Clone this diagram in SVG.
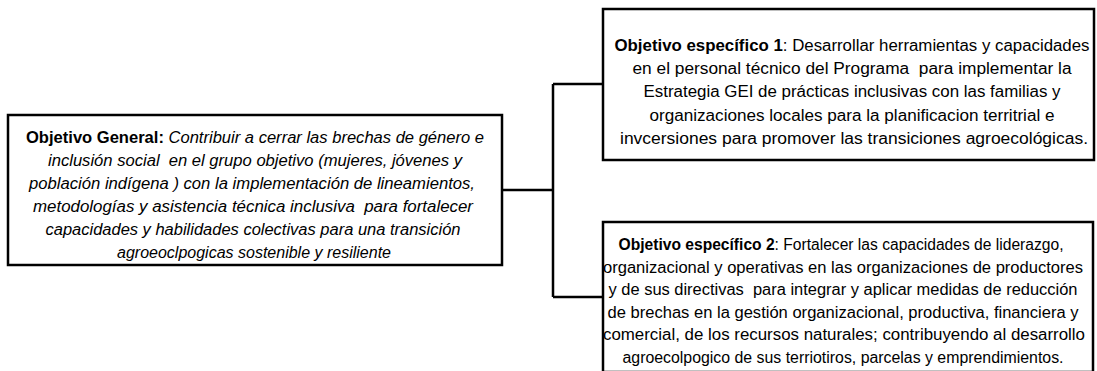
<svg xmlns="http://www.w3.org/2000/svg" width="1097" height="371" viewBox="0 0 1097 371">
<style>
.box{fill:#fff;stroke:#000;stroke-width:2.5}
.t{font-family:"Liberation Sans",Arial,sans-serif;font-size:16px;fill:#000;text-anchor:middle;white-space:pre}
.i{font-style:italic}
.b{font-weight:bold;font-style:normal}
.c{fill:none;stroke:#000;stroke-width:2.5}
</style>
<g id="connectors">
<path class="c" d="M502 190H553M553 84V297M553 84H603M553 297H603"/>
</g>
<g id="general">
<rect class="box" x="8" y="115" width="494" height="150"/>
<text class="t i" x="255" y="142.5" textLength="458" lengthAdjust="spacingAndGlyphs"><tspan class="b">Objetivo General:</tspan> Contribuir a cerrar las brechas de género e</text>
<text class="t i" x="255" y="165.6" textLength="414" lengthAdjust="spacingAndGlyphs">inclusión social  en el grupo objetivo (mujeres, jóvenes y</text>
<text class="t i" x="252" y="188.7" textLength="446" lengthAdjust="spacingAndGlyphs">población indígena ) con la implementación de lineamientos,</text>
<text class="t i" x="253" y="211.8" textLength="440" lengthAdjust="spacingAndGlyphs">metodologías y asistencia técnica inclusiva  para fortalecer</text>
<text class="t i" x="253" y="234.9" textLength="415" lengthAdjust="spacingAndGlyphs">capacidades y habilidades colectivas para una transición</text>
<text class="t i" x="254" y="258">agroeoclpogicas sostenible y resiliente</text>
</g>
<g id="especifico1">
<rect class="box" x="603" y="9" width="491" height="151"/>
<text class="t" x="852" y="51" textLength="475" lengthAdjust="spacingAndGlyphs"><tspan class="b">Objetivo específico 1</tspan>: Desarrollar herramientas y capacidades</text>
<text class="t" x="852" y="74.2" textLength="439" lengthAdjust="spacingAndGlyphs">en el personal técnico del Programa  para implementar la</text>
<text class="t" x="852" y="97.4" textLength="417" lengthAdjust="spacingAndGlyphs">Estrategia GEI de prácticas inclusivas con las familias y</text>
<text class="t" x="852" y="120.6" textLength="405" lengthAdjust="spacingAndGlyphs">organizaciones locales para la planificacion territrial e</text>
<text class="t" x="854" y="143.8" textLength="468" lengthAdjust="spacingAndGlyphs">invcersiones para promover las transiciones agroecológicas.</text>
</g>
<g id="especifico2">
<rect class="box" x="603" y="222" width="490" height="150"/>
<text class="t" x="841" y="250" textLength="445" lengthAdjust="spacingAndGlyphs"><tspan class="b">Objetivo específico 2</tspan>: Fortalecer las capacidades de liderazgo,</text>
<text class="t" x="843" y="272.6" textLength="480" lengthAdjust="spacingAndGlyphs">organizacional y operativas en las organizaciones de productores</text>
<text class="t" x="843" y="295.2" textLength="469" lengthAdjust="spacingAndGlyphs">y de sus directivas  para integrar y aplicar medidas de reducción</text>
<text class="t" x="843" y="317.8" textLength="471" lengthAdjust="spacingAndGlyphs">de brechas en la gestión organizacional, productiva, financiera y</text>
<text class="t" x="844" y="340.4" textLength="482" lengthAdjust="spacingAndGlyphs">comercial, de los recursos naturales; contribuyendo al desarrollo</text>
<text class="t" x="843" y="363" textLength="441" lengthAdjust="spacingAndGlyphs">agroecolpogico de sus terriotiros, parcelas y emprendimientos.</text>
</g>
</svg>
